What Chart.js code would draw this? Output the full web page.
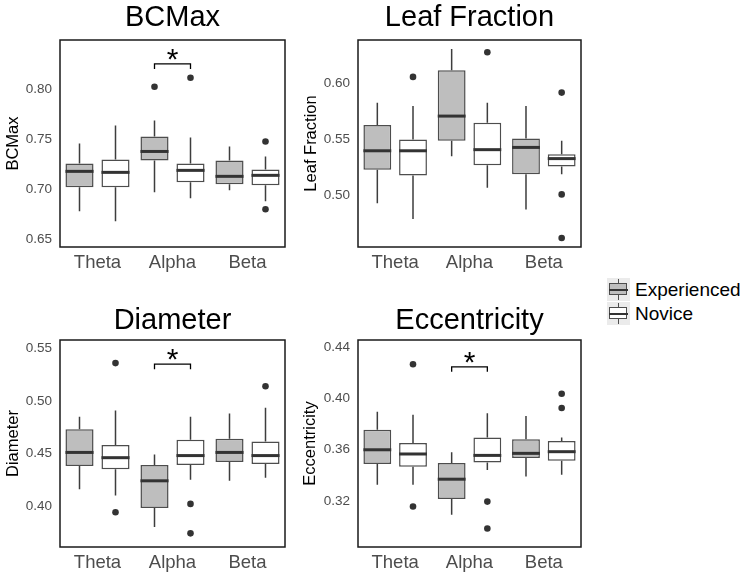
<!DOCTYPE html>
<html>
<head>
<meta charset="utf-8">
<script src="https://cdn.jsdelivr.net/npm/chart.js@4/dist/chart.umd.min.js"></script>
<style>
  body { margin: 0; background: #fff; font-family: "Liberation Sans", Arial, sans-serif; }
  #wrap { position: relative; width: 751px; height: 582px; overflow: hidden; }
  canvas { position: absolute; }
  .key { position: absolute; left: 607px; width: 23px; height: 23px; background: #ebebeb; }
  .key .wh { position: absolute; left: 10.5px; top: 1px; width: 1.5px; height: 21px; background: #4d4d4d; }
  .key .bx { position: absolute; left: 2px; top: 5px; width: 16px; height: 10px; border: 1.5px solid #4d4d4d; }
  .key .md { position: absolute; left: 2px; top: 10.5px; width: 19px; height: 2px; background: #333; }
  .lab { position: absolute; left: 635px; font-size: 19px; color: #000; line-height: 23px; }
</style>
</head>
<body>
<div id="wrap">
  <canvas id="c1" width="295" height="282" style="left:0;top:0"></canvas>
  <canvas id="c2" width="294" height="282" style="left:297px;top:0"></canvas>
  <canvas id="c3" width="295" height="282" style="left:0;top:300px"></canvas>
  <canvas id="c4" width="294" height="282" style="left:297px;top:300px"></canvas>

  <div class="key" style="top:278px"><div class="wh"></div><div class="bx" style="background:#bebebe"></div><div class="md"></div></div>
  <div class="lab" style="top:278px">Experienced</div>
  <div class="key" style="top:302px"><div class="wh"></div><div class="bx" style="background:#fff"></div><div class="md"></div></div>
  <div class="lab" style="top:302px">Novice</div>
</div>
<script>
const groups = ['Theta', 'Alpha', 'Beta'];

// box stats per group: [lower whisker, q1, median, q3, upper whisker]
const bcmaxExperienced = [[0.678, 0.702, 0.718, 0.726, 0.746], [0.697, 0.729, 0.738, 0.753, 0.769], [0.699, 0.705, 0.713, 0.729, 0.743]];
const bcmaxNovice = [[0.668, 0.702, 0.717, 0.730, 0.764], [0.691, 0.707, 0.719, 0.726, 0.752], [0.688, 0.704, 0.714, 0.720, 0.733]];
const bcmaxExperiencedOut = [[], [0.803], []];
const bcmaxNoviceOut = [[], [0.812], [0.748, 0.680]];
const bcmaxTicks = [0.65, 0.70, 0.75, 0.80];

const leafExperienced = [[0.493, 0.523, 0.540, 0.563, 0.583], [0.535, 0.549, 0.571, 0.612, 0.631], [0.4875, 0.519, 0.543, 0.551, 0.580]];
const leafNovice = [[0.479, 0.518, 0.540, 0.550, 0.580], [0.507, 0.527, 0.541, 0.565, 0.583], [0.519, 0.526, 0.533, 0.537, 0.549]];
const leafExperiencedOut = [[], [], []];
const leafNoviceOut = [[0.606], [0.628], [0.592, 0.501, 0.462]];
const leafTicks = [0.50, 0.55, 0.60];

const diamExperienced = [[0.416, 0.438, 0.451, 0.473, 0.485], [0.380, 0.398, 0.424, 0.439, 0.449], [0.424, 0.442, 0.451, 0.464, 0.488]];
const diamNovice = [[0.410, 0.435, 0.446, 0.458, 0.491], [0.425, 0.439, 0.448, 0.463, 0.485], [0.427, 0.440, 0.448, 0.4615, 0.4935]];
const diamExperiencedOut = [[], [], []];
const diamNoviceOut = [[0.536, 0.394], [0.402, 0.374], [0.514]];
const diamTicks = [0.40, 0.45, 0.50, 0.55];

const eccExperienced = [[0.3326, 0.3488, 0.360, 0.3756, 0.3897], [0.3093, 0.3216, 0.337, 0.3496, 0.358], [0.3391, 0.3535, 0.3572, 0.3682, 0.3863]];
const eccNovice = [[0.3326, 0.3467, 0.3567, 0.3653, 0.3873], [0.3441, 0.3501, 0.3556, 0.3695, 0.3886], [0.3404, 0.3514, 0.3585, 0.3669, 0.3695]];
const eccExperiencedOut = [[], [], []];
const eccNoviceOut = [[0.4269, 0.3156], [0.3195, 0.2985], [0.4038, 0.3926]];
const eccTicks = [0.32, 0.36, 0.40, 0.44];

const FONT = '"Liberation Sans", Arial, sans-serif';

// whiskers, medians, outliers, frame and significance bracket
const boxPlugin = {
  id: 'boxes',
  afterDatasetsDraw(chart) {
    const ctx = chart.ctx;
    const y = chart.scales.y;
    ctx.save();
    chart.data.datasets.forEach((ds, di) => {
      const meta = chart.getDatasetMeta(di);
      meta.data.forEach((bar, i) => {
        const s = ds.stats[i];
        const x = bar.x, w = bar.width;
        ctx.strokeStyle = '#3d3d3d';
        ctx.lineWidth = 1.5;
        ctx.beginPath();
        ctx.moveTo(x, y.getPixelForValue(s[4]));
        ctx.lineTo(x, y.getPixelForValue(s[3]));
        ctx.moveTo(x, y.getPixelForValue(s[1]));
        ctx.lineTo(x, y.getPixelForValue(s[0]));
        ctx.stroke();
        ctx.strokeStyle = '#333';
        ctx.lineWidth = 3;
        ctx.beginPath();
        const my = y.getPixelForValue(s[2]);
        ctx.moveTo(x - w / 2, my);
        ctx.lineTo(x + w / 2, my);
        ctx.stroke();
        ctx.fillStyle = '#333';
        ds.outliers[i].forEach(v => {
          ctx.beginPath();
          ctx.arc(x, y.getPixelForValue(v), 3.3, 0, Math.PI * 2);
          ctx.fill();
        });
      });
    });
    const sig = chart.options.plugins.boxes.sig;
    if (sig !== null) {
      const a = chart.getDatasetMeta(0).data[1].x;
      const b = chart.getDatasetMeta(1).data[1].x;
      const sy = y.getPixelForValue(sig);
      ctx.strokeStyle = '#000';
      ctx.lineWidth = 1.3;
      ctx.beginPath();
      ctx.moveTo(a, sy + 5);
      ctx.lineTo(a, sy);
      ctx.lineTo(b, sy);
      ctx.lineTo(b, sy + 5);
      ctx.stroke();
      ctx.fillStyle = '#000';
      ctx.font = '30px ' + FONT;
      ctx.textAlign = 'center';
      ctx.textBaseline = 'alphabetic';
      ctx.fillText('*', (a + b) / 2, sy + 5);
    }
    const ca = chart.chartArea;
    ctx.strokeStyle = '#1a1a1a';
    ctx.lineWidth = 1.5;
    ctx.strokeRect(ca.left, ca.top, ca.right - ca.left, ca.bottom - ca.top);
    ctx.restore();
  }
};

function boxChart(id, title, yTitle, exp, nov, expOut, novOut, ticks, yMin, yMax, sig, titlePad, yTitlePad, yWidth) {
  return new Chart(document.getElementById(id), {
    type: 'bar',
    data: {
      labels: groups,
      datasets: [
        {
          label: 'Experienced',
          data: exp.map(s => [s[1], s[3]]),
          stats: exp,
          outliers: expOut,
          backgroundColor: '#bebebe',
          borderColor: '#4d4d4d',
          borderWidth: 1.5,
          borderSkipped: false,
          categoryPercentage: 0.96,
          barPercentage: 0.78
        },
        {
          label: 'Novice',
          data: nov.map(s => [s[1], s[3]]),
          stats: nov,
          outliers: novOut,
          backgroundColor: '#ffffff',
          borderColor: '#4d4d4d',
          borderWidth: 1.5,
          borderSkipped: false,
          categoryPercentage: 0.96,
          barPercentage: 0.78
        }
      ]
    },
    options: {
      responsive: false,
      animation: false,
      layout: { padding: { left: 0, right: 10, top: 0, bottom: 0 } },
      plugins: {
        legend: { display: false },
        tooltip: { enabled: false },
        title: {
          display: true,
          fullSize: false,
          text: title,
          color: '#000',
          font: { family: FONT, size: 29, weight: 'normal', lineHeight: 1.2 },
          padding: titlePad
        },
        boxes: { sig: sig }
      },
      scales: {
        x: {
          grid: { display: false, drawTicks: false },
          border: { display: false },
          ticks: { color: '#4d4d4d', font: { family: FONT, size: 18.5 }, padding: 5 },
          afterFit(scale) { scale.height = 35; }
        },
        y: {
          min: yMin,
          max: yMax,
          grid: { display: false, drawTicks: false },
          border: { display: false },
          ticks: {
            color: '#4d4d4d',
            font: { family: FONT, size: 13.5 },
            padding: 8,
            callback: v => v.toFixed(2)
          },
          afterBuildTicks(scale) { scale.ticks = ticks.map(v => ({ value: v })); },
          title: {
            display: true,
            text: yTitle,
            color: '#000',
            font: { family: FONT, size: 16.5 },
            padding: { top: yTitlePad, bottom: 0 }
          },
          afterFit(scale) { scale.width = yWidth; }
        }
      }
    },
    plugins: [boxPlugin]
  });
}

boxChart('c1', 'BCMax', 'BCMax', bcmaxExperienced, bcmaxNovice, bcmaxExperiencedOut, bcmaxNoviceOut,
  bcmaxTicks, 0.642, 0.850, 0.826, { top: 1, bottom: 4.2 }, 4, 60);
boxChart('c2', 'Leaf Fraction', 'Leaf Fraction', leafExperienced, leafNovice, leafExperiencedOut, leafNoviceOut,
  leafTicks, 0.454, 0.639, null, { top: 1, bottom: 4.2 }, 5, 61);
boxChart('c3', 'Diameter', 'Diameter', diamExperienced, diamNovice, diamExperiencedOut, diamNoviceOut,
  diamTicks, 0.361, 0.558, 0.535, { top: 3.6, bottom: 1.6 }, 4, 60);
boxChart('c4', 'Eccentricity', 'Eccentricity', eccExperienced, eccNovice, eccExperiencedOut, eccNoviceOut,
  eccTicks, 0.284, 0.4458, 0.4248, { top: 3.6, bottom: 1.6 }, 4, 61);
</script>
</body>
</html>
